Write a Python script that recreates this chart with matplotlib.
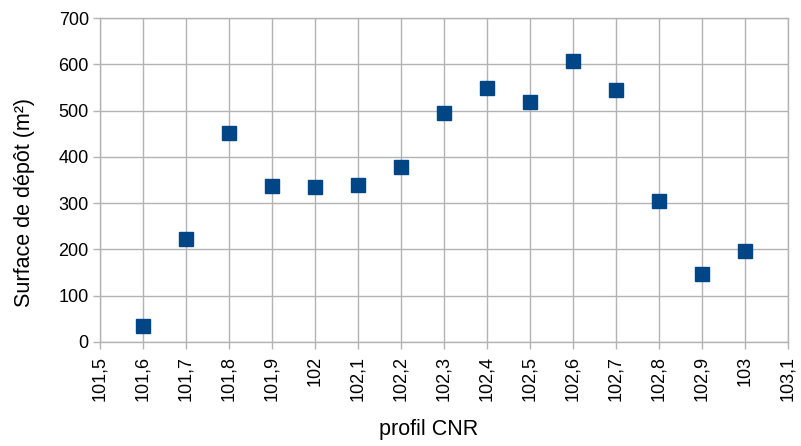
import numpy as np
import matplotlib
matplotlib.use('Agg')
import matplotlib.pyplot as plt
from matplotlib.ticker import MultipleLocator, FuncFormatter

# profil CNR (km) and surface de dépôt (m²)
profil = [101.6, 101.7, 101.8, 101.9, 102.0, 102.1, 102.2, 102.3,
          102.4, 102.5, 102.6, 102.7, 102.8, 102.9, 103.0]
surface = [35, 223, 451, 336, 334, 340, 378, 495,
           548, 519, 607, 545, 305, 147, 196]

plt.rcParams['font.family'] = ['Liberation Sans', 'DejaVu Sans']

fig = plt.figure(figsize=(8.01, 4.46), dpi=100)
ax = fig.add_axes([0.1248, 0.2332, 0.859, 0.7264])

ax.plot(profil, surface, 's', color='#004586', markersize=10, linestyle='none', zorder=3)

ax.set_xlim(101.5, 103.1)
ax.set_ylim(0, 700)
ax.xaxis.set_major_locator(MultipleLocator(0.1))
ax.yaxis.set_major_locator(MultipleLocator(100))

def comma_fmt(v, pos):
    s = '{:.1f}'.format(v).rstrip('0').rstrip('.')
    return s.replace('.', ',')

ax.xaxis.set_major_formatter(FuncFormatter(comma_fmt))
ax.grid(True, color='#b3b3b3', linewidth=1)
ax.set_axisbelow(True)
for sp in ax.spines.values():
    sp.set_color('#b3b3b3')
    sp.set_linewidth(1)

ax.tick_params(axis='both', colors='#b3b3b3', labelcolor='#000000', labelsize=13, length=5, width=1)
ax.tick_params(axis='x', labelrotation=90, pad=5)
ax.tick_params(axis='y', pad=3)

ax.set_xlabel('profil CNR', fontsize=15.5)
ax.xaxis.set_label_coords(0.477, -0.237)
ax.set_ylabel('Surface de dépôt (m²)', fontsize=15.5)
ax.yaxis.set_label_coords(-0.094, 0.43)

fig.savefig('out.png', dpi=100)
